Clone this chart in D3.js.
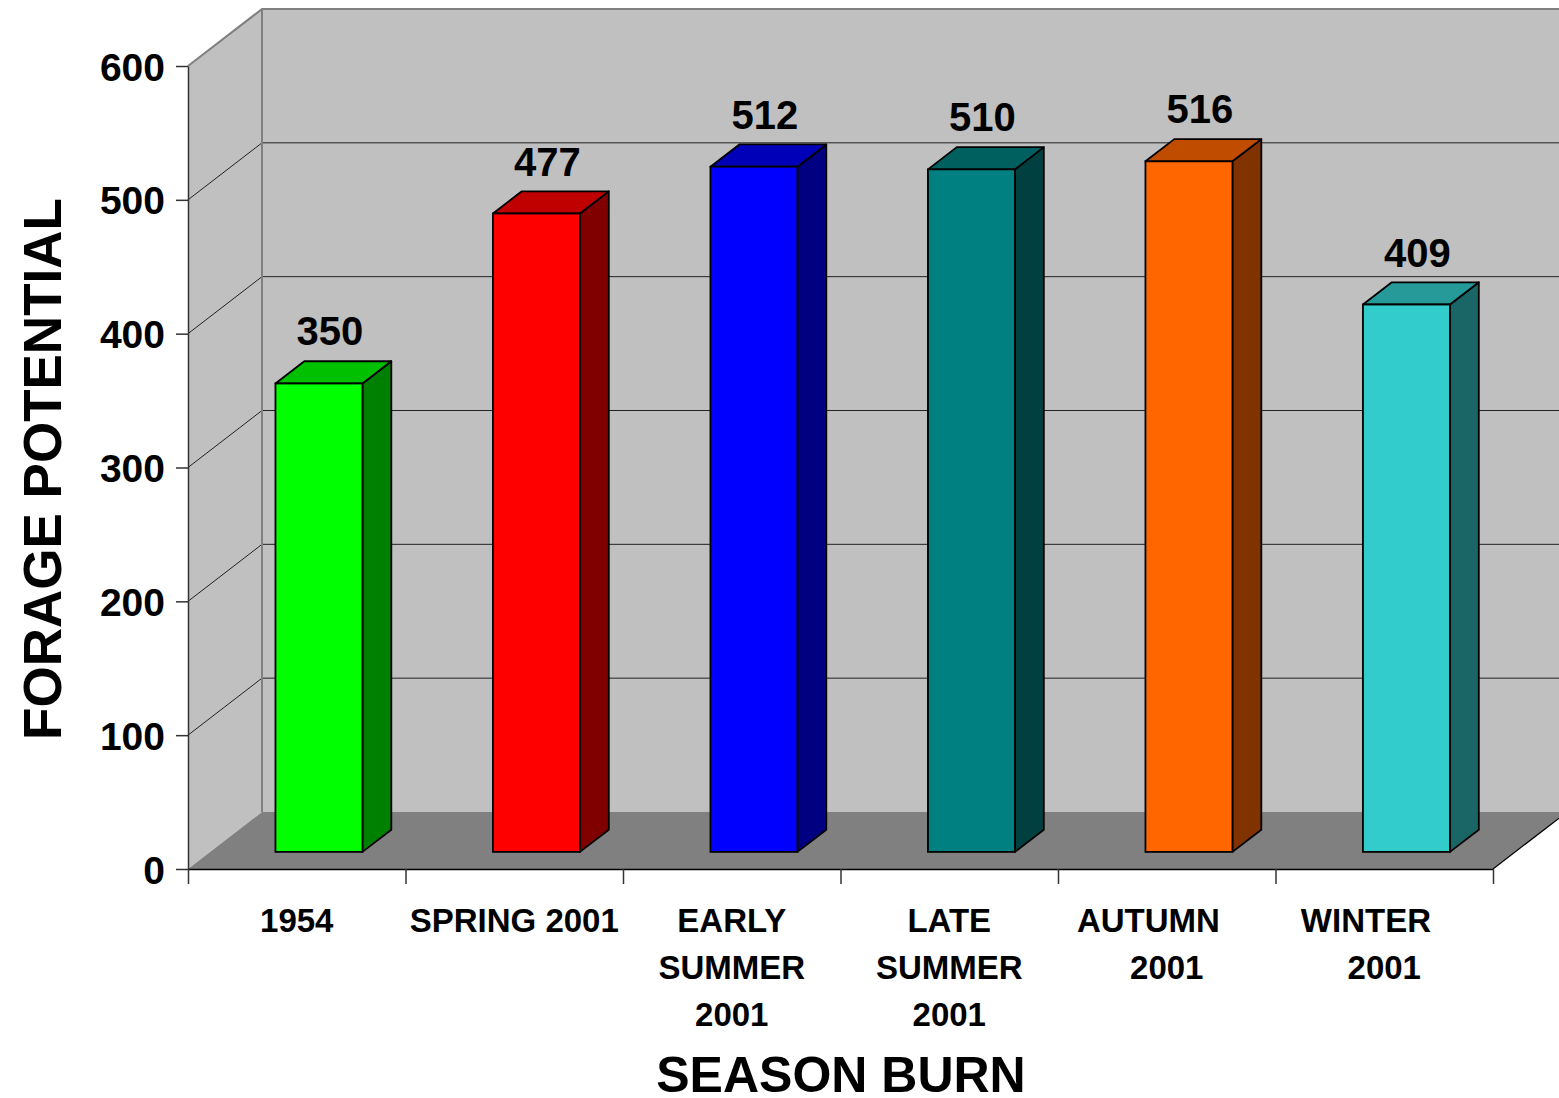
<!DOCTYPE html>
<html>
<head>
<meta charset="utf-8">
<script src="https://cdn.jsdelivr.net/npm/d3@7"></script>
<style>
  html, body { margin: 0; padding: 0; background: #fff; }
  svg { display: block; font-family: "Liberation Sans", Arial, sans-serif; font-weight: bold; }
</style>
</head>
<body>
<svg width="1559" height="1098"></svg>
<script>
// chart data
var categories = ["1954", "SPRING 2001", "EARLY SUMMER 2001", "LATE SUMMER 2001", "AUTUMN 2001", "WINTER 2001"];
// wrapped label lines (the original labels keep trailing spaces on the first line of the last two)
var categoryLines = [["1954"], ["SPRING 2001"], ["EARLY", "SUMMER", "2001"], ["LATE", "SUMMER", "2001"],
                     ["AUTUMN\u00a0\u00a0\u00a0\u00a0", "2001"], ["WINTER\u00a0\u00a0\u00a0\u00a0", "2001"]];
var values = [350, 477, 512, 510, 516, 409];
var yTicks = [0, 100, 200, 300, 400, 500, 600];

var frontColors = ["#00ff00", "#ff0000", "#0000ff", "#008080", "#ff6600", "#33cccc"];
var topColors   = ["#00c000", "#c00000", "#0000b8", "#006060", "#c04c00", "#269999"];
var sideColors  = ["#008000", "#800000", "#000080", "#004040", "#803300", "#1a6666"];

var svg = d3.select("svg");

// front plane geometry + depth offset
var plotLeft = 188, plotRight = 1493, plotBottom = 869, plotTop = 66;
var DX = 74, DY = -57;          // full depth of the box
var z0 = 0.3, z1 = 0.69;        // bar depth range (fraction of box depth)

var x = d3.scaleBand().domain(categories).range([plotLeft, plotRight]).paddingInner(0.6).paddingOuter(0.3);
var y = d3.scaleLinear().domain([0, 600]).range([plotBottom, plotTop]);

function pts(arr) { return arr.map(function (p) { return p[0] + "," + p[1]; }).join(" "); }

var box = svg.append("g");

// left side wall
box.append("polygon")
    .attr("points", pts([[plotLeft, y(600)], [plotLeft + DX, y(600) + DY], [plotLeft + DX, y(0) + DY], [plotLeft, y(0)]]))
    .attr("fill", "#c0c0c0").attr("stroke", "none");

// back wall
box.append("rect")
    .attr("x", plotLeft + DX).attr("y", y(600) + DY)
    .attr("width", plotRight - plotLeft + 2).attr("height", y(0) - y(600))
    .attr("fill", "#c0c0c0");

// floor
box.append("polygon")
    .attr("points", pts([[plotLeft, y(0)], [plotLeft + DX, y(0) + DY], [plotRight + DX, y(0) + DY], [plotRight, y(0)]]))
    .attr("fill", "#808080");

// gridlines on back wall and left wall
var grid = yTicks.filter(function (d) { return d > 0 && d < 600; });
box.selectAll(".gback").data(grid).enter().append("line")
    .attr("x1", plotLeft + DX).attr("x2", plotRight + DX)
    .attr("y1", function (d) { return y(d) + DY; }).attr("y2", function (d) { return y(d) + DY; })
    .attr("stroke", "#222").attr("stroke-width", 1);
box.selectAll(".gside").data(grid).enter().append("line")
    .attr("x1", plotLeft).attr("x2", plotLeft + DX)
    .attr("y1", function (d) { return y(d); }).attr("y2", function (d) { return y(d) + DY; })
    .attr("stroke", "#222").attr("stroke-width", 1);

// wall edges (gray)
box.append("polyline")
    .attr("points", pts([[plotLeft, y(600)], [plotLeft + DX, y(600) + DY], [plotRight + DX + 10, y(600) + DY]]))
    .attr("fill", "none").attr("stroke", "#808080").attr("stroke-width", 2);
box.append("line")
    .attr("x1", plotLeft + DX).attr("x2", plotLeft + DX)
    .attr("y1", y(600) + DY).attr("y2", y(0) + DY)
    .attr("stroke", "#808080").attr("stroke-width", 2);

// floor right edge
box.append("line")
    .attr("x1", plotRight).attr("y1", y(0)).attr("x2", plotRight + DX).attr("y2", y(0) + DY)
    .attr("stroke", "#000").attr("stroke-width", 1.2);

// bars
var bw = x.bandwidth();
var bars = svg.append("g").selectAll("g").data(values).enter().append("g");

function fx(i) { return x(categories[i]) + DX * z0; }
function fy(v) { return y(v) + DY * z0; }
var ddx = DX * (z1 - z0), ddy = DY * (z1 - z0);

bars.append("polygon") // side
    .attr("points", function (d, i) {
        var x1 = fx(i) + bw;
        return pts([[x1, fy(d)], [x1 + ddx, fy(d) + ddy], [x1 + ddx, fy(0) + ddy], [x1, fy(0)]]);
    })
    .attr("fill", function (d, i) { return sideColors[i]; })
    .attr("stroke", "#000").attr("stroke-width", 1.8).attr("stroke-linejoin", "round");

bars.append("polygon") // top
    .attr("points", function (d, i) {
        var x0 = fx(i), x1 = fx(i) + bw;
        return pts([[x0, fy(d)], [x0 + ddx, fy(d) + ddy], [x1 + ddx, fy(d) + ddy], [x1, fy(d)]]);
    })
    .attr("fill", function (d, i) { return topColors[i]; })
    .attr("stroke", "#000").attr("stroke-width", 1.8).attr("stroke-linejoin", "round");

bars.append("rect") // front
    .attr("x", function (d, i) { return fx(i); })
    .attr("y", function (d) { return fy(d); })
    .attr("width", bw)
    .attr("height", function (d) { return fy(0) - fy(d); })
    .attr("fill", function (d, i) { return frontColors[i]; })
    .attr("stroke", "#000").attr("stroke-width", 1.8);

// value labels
bars.append("text")
    .attr("x", function (d, i) { return fx(i) + bw / 2 + 11; })
    .attr("y", function (d) { return fy(d) - 38; })
    .attr("text-anchor", "middle")
    .attr("font-size", 40)
    .attr("fill", "#000")
    .text(function (d) { return d; });

// y axis
var yAxis = svg.append("g")
    .attr("transform", "translate(" + plotLeft + ",0)")
    .call(d3.axisLeft(y).tickValues(yTicks).tickSize(12).tickSizeOuter(0).tickPadding(11));
yAxis.select(".domain").attr("stroke", "#333").attr("stroke-width", 1.5);
yAxis.selectAll(".tick line").attr("stroke", "#333").attr("stroke-width", 1.5);
yAxis.selectAll(".tick text")
    .attr("font-family", "Liberation Sans, Arial, sans-serif")
    .attr("font-weight", "bold")
    .attr("font-size", 39)
    .attr("fill", "#000")
    .attr("dy", "0.36em");

// x axis (tick marks at category boundaries)
var xEdge = d3.scaleLinear().domain([0, categories.length]).range([plotLeft, plotRight]);
var xAxis = svg.append("g")
    .attr("transform", "translate(0," + plotBottom + ")")
    .call(d3.axisBottom(xEdge).tickValues(d3.range(categories.length + 1)).tickSize(15).tickSizeOuter(0).tickFormat(""));
xAxis.select(".domain").attr("stroke", "#000").attr("stroke-width", 1.5);
xAxis.selectAll(".tick line").attr("stroke", "#333").attr("stroke-width", 1.5);

// category labels
var xl = svg.append("g").selectAll("text").data(categoryLines).enter().append("text")
    .attr("text-anchor", "middle")
    .attr("font-size", 33)
    .attr("fill", "#000")
    .style("white-space", "pre");
xl.selectAll("tspan").data(function (d, i) { return d.map(function (s) { return { s: s, i: i }; }); })
    .enter().append("tspan")
    .attr("x", function (d) { return x(categories[d.i]) + bw / 2; })
    .attr("y", function (d, j) { return 932 + j * 47; })
    .text(function (d) { return d.s; });

// axis titles
svg.append("text")
    .attr("transform", "translate(61,469) rotate(-90)")
    .attr("text-anchor", "middle")
    .attr("font-size", 53)
    .text("FORAGE POTENTIAL");

svg.append("text")
    .attr("x", 841).attr("y", 1092)
    .attr("text-anchor", "middle")
    .attr("font-size", 50)
    .text("SEASON BURN");
</script>
</body>
</html>
